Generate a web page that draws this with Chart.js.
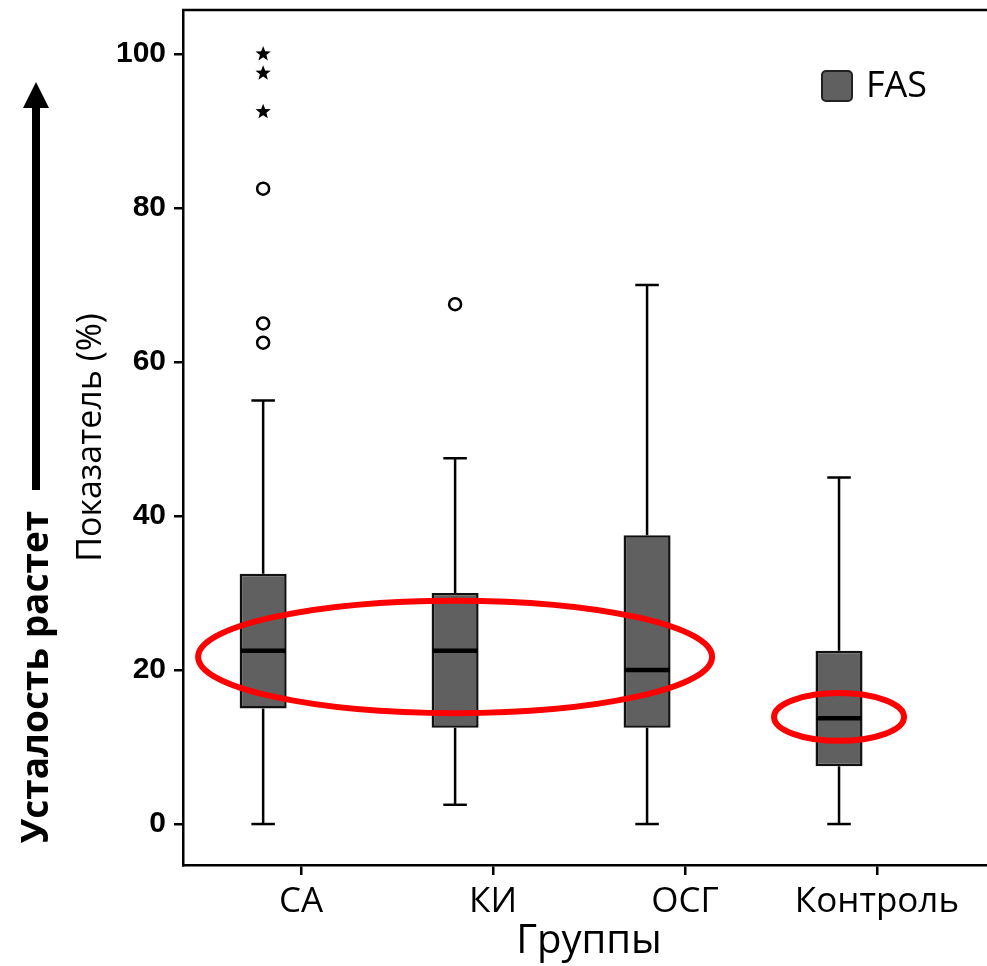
<!DOCTYPE html>
<html>
<head>
<meta charset="utf-8">
<script src="https://cdn.jsdelivr.net/npm/chart.js@4.4.1/dist/chart.umd.min.js"></script>
<style>
  html, body { margin: 0; padding: 0; overflow: hidden; background: #fff; }
  #wrap { width: 1000px; height: 966px; position: relative; }
</style>
</head>
<body>
<div id="wrap"><canvas id="chart"></canvas></div>
<script>
// Groups and FAS box-plot statistics (%)
const categories  = ['СА', 'КИ', 'ОСГ', 'Контроль'];
const whiskerLow  = [0, 2.5, 0, 0];
const q1          = [15, 12.5, 12.5, 7.5];
const medians     = [22.5, 22.5, 20, 13.75];
const q3          = [32.5, 30, 37.5, 22.5];
const whiskerHigh = [55, 47.5, 70, 45];
// mild outliers (circles) and extreme values (stars)
const outliers    = [[62.5, 65, 82.5], [67.5], [], []];
const extremes    = [[92.5, 97.5, 100], [], [], []];
const yTicks      = [0, 20, 40, 60, 80, 100];
// highlighted median bands: first group, last group, value range
const bandFirst   = [0, 3];
const bandLast    = [2, 3];
const bandLow     = [14.4, 10.8];
const bandHigh    = [29.0, 17.0];

const LABEL_FONT = "'Open Sans', 'Noto Sans', sans-serif";

function starPath(ctx, x, y, rOut, rIn) {
  ctx.beginPath();
  for (let k = 0; k < 10; k++) {
    const r = k % 2 === 0 ? rOut : rIn;
    const a = -Math.PI / 2 + k * Math.PI / 5;
    const px = x + r * Math.cos(a), py = y + r * Math.sin(a);
    if (k === 0) ctx.moveTo(px, py); else ctx.lineTo(px, py);
  }
  ctx.closePath();
}

function line(ctx, x1, y1, x2, y2) {
  ctx.beginPath(); ctx.moveTo(x1, y1); ctx.lineTo(x2, y2); ctx.stroke();
}

// whiskers, medians, outliers, highlight ellipses, frame, legend, side note
const boxExtras = {
  id: 'boxExtras',
  afterDatasetsDraw(chart) {
    const ctx = chart.ctx;
    const ys = chart.scales.y;
    const bars = chart.getDatasetMeta(0).data;
    ctx.save();
    ctx.strokeStyle = '#000';
    ctx.lineCap = 'butt';
    bars.forEach((bar, i) => {
      const cx = bar.x, half = bar.width / 2, capHalf = bar.width / 4;
      ctx.lineWidth = 2.5;
      line(ctx, cx, ys.getPixelForValue(q3[i]), cx, ys.getPixelForValue(whiskerHigh[i]));
      line(ctx, cx, ys.getPixelForValue(q1[i]), cx, ys.getPixelForValue(whiskerLow[i]));
      line(ctx, cx - capHalf, ys.getPixelForValue(whiskerHigh[i]), cx + capHalf, ys.getPixelForValue(whiskerHigh[i]));
      line(ctx, cx - capHalf, ys.getPixelForValue(whiskerLow[i]), cx + capHalf, ys.getPixelForValue(whiskerLow[i]));
      ctx.lineWidth = 4.5;
      line(ctx, cx - half + 1, ys.getPixelForValue(medians[i]), cx + half - 1, ys.getPixelForValue(medians[i]));
      ctx.lineWidth = 2.5;
      outliers[i].forEach(v => {
        ctx.beginPath();
        ctx.arc(cx, ys.getPixelForValue(v), 6, 0, Math.PI * 2);
        ctx.fillStyle = '#fff'; ctx.fill(); ctx.stroke();
      });
      ctx.fillStyle = '#000';
      extremes[i].forEach(v => {
        starPath(ctx, cx, ys.getPixelForValue(v), 8, 3.4);
        ctx.fill();
      });
    });
    ctx.restore();
  },
  afterDraw(chart) {
    const ctx = chart.ctx;
    const ys = chart.scales.y;
    const area = chart.chartArea;
    const bars = chart.getDatasetMeta(0).data;
    ctx.save();

    // top frame line
    ctx.strokeStyle = '#000';
    ctx.lineWidth = 2.5;
    line(ctx, area.left - 1, area.top, area.right, area.top);

    // red ellipses around median bands
    ctx.strokeStyle = '#ff0000';
    ctx.lineWidth = 6;
    bandFirst.forEach((f, k) => {
      const x1 = bars[f].x, x2 = bars[bandLast[k]].x;
      const yTop = ys.getPixelForValue(bandHigh[k]);
      const yBot = ys.getPixelForValue(bandLow[k]);
      ctx.beginPath();
      ctx.ellipse((x1 + x2) / 2, (yTop + yBot) / 2, (x2 - x1) / 2 + 65, (yBot - yTop) / 2, 0, 0, Math.PI * 2);
      ctx.stroke();
    });

    // legend
    const ds = chart.data.datasets[0];
    const lx = area.right - 173, ly = area.top + 61;
    ctx.beginPath();
    ctx.roundRect(lx, ly, 30, 30, 4);
    ctx.fillStyle = ds.backgroundColor; ctx.fill();
    ctx.strokeStyle = '#222'; ctx.lineWidth = 2; ctx.stroke();
    ctx.fillStyle = '#000';
    ctx.font = "36px " + LABEL_FONT;
    ctx.textAlign = 'left'; ctx.textBaseline = 'middle';
    ctx.fillText(ds.label, lx + 44, ly + 16);

    // side note with arrow
    ctx.save();
    ctx.translate(37, 677);
    ctx.rotate(-Math.PI / 2);
    ctx.font = "bold 37px " + LABEL_FONT;
    ctx.textAlign = 'center'; ctx.textBaseline = 'middle';
    ctx.fillText('Усталость растет', 0, 0);
    ctx.restore();
    ctx.fillStyle = '#000';
    ctx.fillRect(32, 106, 8, 384);
    ctx.beginPath();
    ctx.moveTo(36, 82); ctx.lineTo(49, 108); ctx.lineTo(23, 108); ctx.closePath();
    ctx.fill();

    ctx.restore();
  }
};

new Chart(document.getElementById('chart'), {
  type: 'bar',
  data: {
    datasets: [
      {
        label: 'FAS',
        data: categories.map((c, i) => ({ x: i, y: [q1[i], q3[i]] })),
        backgroundColor: '#606060',
        borderColor: '#111',
        borderWidth: 2.5,
        borderSkipped: false,
        categoryPercentage: 0.79,
        barPercentage: 0.62
      },
      {
        label: '',
        data: categories.map((c, i) => ({ x: i, y: null })),
        categoryPercentage: 0.79,
        barPercentage: 0.62
      }
    ]
  },
  options: {
    responsive: true,
    maintainAspectRatio: false,
    animation: false,
    layout: { padding: { left: 0, top: 10, right: 5, bottom: 0 } },
    plugins: { legend: { display: false }, tooltip: { enabled: false } },
    scales: {
      x: {
        type: 'linear',
        offset: false,
        min: -0.615,
        max: 3.615,
        afterBuildTicks: s => { s.ticks = categories.map((c, i) => ({ value: i })); },
        afterFit: s => { s.height = 101; s.paddingLeft = 0; s.paddingRight = 0; },
        ticks: {
          autoSkip: false, maxRotation: 0, padding: 6, color: '#000',
          font: { family: LABEL_FONT, size: 35 },
          callback: (v, idx) => categories[idx]
        },
        grid: { offset: false, drawOnChartArea: false, drawTicks: true, tickLength: 10, color: '#000', lineWidth: 2.5 },
        border: { display: true, color: '#000', width: 2.5 },
        title: { display: true, text: 'Группы', color: '#000', font: { family: LABEL_FONT, size: 40 }, padding: { top: 0, bottom: 0 } }
      },
      y: {
        min: -5.32,
        max: 105.71,
        afterBuildTicks: s => { s.ticks = yTicks.map(v => ({ value: v })); },
        afterFit: s => { s.width = 183; s.paddingTop = 0; s.paddingBottom = 0; },
        ticks: {
          padding: 8, color: '#000',
          font: { family: "'Liberation Sans', Arial, sans-serif", size: 30, weight: 'bold' }
        },
        grid: { drawOnChartArea: false, drawTicks: true, tickLength: 9, color: '#000', lineWidth: 2.5 },
        border: { display: true, color: '#000', width: 2.5 },
        title: { display: true, text: 'Показатель (%)', color: '#000', font: { family: LABEL_FONT, size: 34 }, padding: { top: 71, bottom: 0 } }
      }
    }
  },
  plugins: [boxExtras]
});
</script>
</body>
</html>
